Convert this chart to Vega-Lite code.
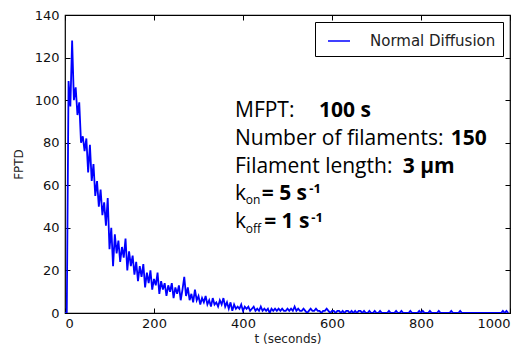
{
  "$schema": "https://vega.github.io/schema/vega-lite/v6.json",
  "width": 445,
  "height": 298,
  "autosize": "none",
  "padding": {"left": 65, "top": 15, "right": 16, "bottom": 40},
  "background": "white",
  "config": {
    "view": {"stroke": "black", "strokeWidth": 1.2},
    "axis": {"grid": false, "domain": false, "tickColor": "black", "tickSize": -5, "tickWidth": 1,
      "labelFont": "DejaVu Sans", "labelFontSize": 13, "labelColor": "#111",
      "titleFont": "DejaVu Sans", "titleFontSize": 12, "titleFontWeight": "normal", "titleColor": "#222"}
  },
  "datasets": {
    "fptd": [
      {"t":0,"n":0},{"t":4,"n":0},{"t":8,"n":109},{"t":12,"n":97},{"t":16,"n":128},{"t":20,"n":100},{"t":24,"n":106},{"t":28,"n":93},{"t":32,"n":99},{"t":36,"n":80},
      {"t":40,"n":83},{"t":44,"n":76},{"t":48,"n":82},{"t":52,"n":66},{"t":56,"n":79},{"t":60,"n":62},{"t":64,"n":70},{"t":68,"n":55},{"t":72,"n":62},{"t":76,"n":50},
      {"t":80,"n":58},{"t":84,"n":46},{"t":88,"n":52},{"t":92,"n":41},{"t":96,"n":54},{"t":100,"n":30},{"t":104,"n":40},{"t":108,"n":22},{"t":112,"n":37},{"t":116,"n":28},
      {"t":120,"n":34},{"t":124,"n":24},{"t":128,"n":31},{"t":132,"n":26},{"t":136,"n":35},{"t":140,"n":20},{"t":144,"n":29},{"t":148,"n":22},{"t":152,"n":27},{"t":156,"n":18},
      {"t":160,"n":24},{"t":164,"n":15},{"t":168,"n":22},{"t":172,"n":17},{"t":176,"n":23},{"t":180,"n":12},{"t":184,"n":19},{"t":188,"n":14},{"t":192,"n":20},{"t":196,"n":11},
      {"t":200,"n":16},{"t":204,"n":13},{"t":208,"n":19},{"t":212,"n":9},{"t":216,"n":15},{"t":220,"n":11},{"t":224,"n":14},{"t":228,"n":8},{"t":232,"n":13},{"t":236,"n":10},
      {"t":240,"n":14},{"t":244,"n":7},{"t":248,"n":12},{"t":252,"n":9},{"t":256,"n":13},{"t":260,"n":6},{"t":264,"n":11},{"t":268,"n":17},{"t":272,"n":8},{"t":276,"n":12},
      {"t":280,"n":6},{"t":284,"n":9},{"t":288,"n":5},{"t":292,"n":11},{"t":296,"n":6},{"t":300,"n":8},{"t":304,"n":4},{"t":308,"n":7},{"t":312,"n":5},{"t":316,"n":8},
      {"t":320,"n":4},{"t":324,"n":6},{"t":328,"n":3},{"t":332,"n":7},{"t":336,"n":4},{"t":340,"n":5},{"t":344,"n":3},{"t":348,"n":6},{"t":352,"n":4},{"t":356,"n":7},
      {"t":360,"n":3},{"t":364,"n":5},{"t":368,"n":2},{"t":372,"n":5},{"t":376,"n":1},{"t":380,"n":4},{"t":384,"n":2},{"t":388,"n":3},{"t":392,"n":2},{"t":396,"n":4},
      {"t":400,"n":1},{"t":404,"n":3},{"t":408,"n":2},{"t":412,"n":3},{"t":416,"n":1},{"t":420,"n":2},{"t":424,"n":3},{"t":428,"n":1},{"t":432,"n":2},{"t":436,"n":1},
      {"t":440,"n":3},{"t":444,"n":1},{"t":448,"n":2},{"t":452,"n":1},{"t":456,"n":2},{"t":460,"n":0},{"t":464,"n":2},{"t":468,"n":1},{"t":472,"n":2},{"t":476,"n":1},
      {"t":480,"n":2},{"t":484,"n":1},{"t":488,"n":2},{"t":492,"n":1},{"t":496,"n":1},{"t":500,"n":2},{"t":504,"n":1},{"t":508,"n":2},{"t":512,"n":1},{"t":516,"n":3},
      {"t":520,"n":1},{"t":524,"n":2},{"t":528,"n":1},{"t":532,"n":1},{"t":536,"n":2},{"t":540,"n":1},{"t":544,"n":0},{"t":548,"n":1},{"t":552,"n":2},{"t":556,"n":1},
      {"t":560,"n":1},{"t":564,"n":2},{"t":568,"n":1},{"t":572,"n":1},{"t":576,"n":0},{"t":580,"n":1},{"t":584,"n":1},{"t":588,"n":2},{"t":592,"n":1},{"t":596,"n":0},
      {"t":600,"n":1},{"t":604,"n":1},{"t":608,"n":0},{"t":612,"n":1},{"t":616,"n":1},{"t":620,"n":0},{"t":624,"n":1},{"t":628,"n":0},{"t":632,"n":1},{"t":636,"n":1},
      {"t":640,"n":0},{"t":644,"n":1},{"t":648,"n":0},{"t":652,"n":1},{"t":656,"n":0},{"t":660,"n":1},{"t":664,"n":1},{"t":668,"n":0},{"t":672,"n":1},{"t":676,"n":0},
      {"t":680,"n":0},{"t":684,"n":1},{"t":688,"n":0},{"t":692,"n":0},{"t":696,"n":1},{"t":700,"n":0},{"t":704,"n":0},{"t":708,"n":1},{"t":712,"n":0},{"t":716,"n":0},
      {"t":720,"n":0},{"t":724,"n":0},{"t":728,"n":1},{"t":732,"n":0},{"t":736,"n":0},{"t":740,"n":0},{"t":744,"n":1},{"t":748,"n":0},{"t":752,"n":0},{"t":756,"n":1},
      {"t":760,"n":0},{"t":764,"n":0},{"t":768,"n":0},{"t":772,"n":0},{"t":776,"n":1},{"t":780,"n":0},{"t":784,"n":0},{"t":788,"n":0},{"t":792,"n":0},{"t":796,"n":1},
      {"t":800,"n":0},{"t":804,"n":1},{"t":808,"n":0},{"t":812,"n":0},{"t":816,"n":0},{"t":820,"n":1},{"t":824,"n":0},{"t":828,"n":0},{"t":832,"n":0},{"t":836,"n":0},
      {"t":840,"n":1},{"t":844,"n":0},{"t":848,"n":0},{"t":852,"n":0},{"t":856,"n":0},{"t":860,"n":0},{"t":864,"n":0},{"t":868,"n":1},{"t":872,"n":0},{"t":876,"n":0},
      {"t":880,"n":0},{"t":884,"n":0},{"t":888,"n":1},{"t":892,"n":0},{"t":896,"n":0},{"t":900,"n":0},{"t":904,"n":0},{"t":908,"n":0},{"t":912,"n":0},{"t":916,"n":0},
      {"t":920,"n":0},{"t":924,"n":0},{"t":928,"n":0},{"t":932,"n":0},{"t":936,"n":0},{"t":940,"n":0},{"t":944,"n":0},{"t":948,"n":0},{"t":952,"n":0},{"t":956,"n":0},
      {"t":960,"n":0},{"t":964,"n":0},{"t":968,"n":0},{"t":972,"n":0},{"t":976,"n":0},{"t":980,"n":0},{"t":984,"n":1},{"t":988,"n":0},{"t":992,"n":1},{"t":996,"n":0}
    ]
  },
  "data": {"name": "fptd"},
  "resolve": {"axis": {"x": "independent", "y": "independent"}},
  "layer": [
    {
      "mark": {"type": "line", "strokeWidth": 1.8, "clip": true},
      "encoding": {
        "x": {"field": "t", "type": "quantitative", "scale": {"domain": [0, 1000], "nice": false},
          "axis": {"orient": "bottom", "values": [0,200,400,600,800,1000], "format": "d", "labelPadding": 9, "title": "t (seconds)", "titlePadding": 3}},
        "y": {"field": "n", "type": "quantitative", "scale": {"domain": [0, 140], "nice": false},
          "axis": {"orient": "left", "values": [0,20,40,60,80,100,120,140], "format": "d", "labelPadding": 11, "title": "FPTD", "titlePadding": 9}},
        "color": {"datum": "Normal Diffusion", "type": "nominal", "scale": {"range": ["#0000ff"]},
          "legend": {"orient": "top-right", "offset": 7, "title": null, "strokeColor": "black", "fillColor": "white",
            "padding": 7, "cornerRadius": 0, "symbolType": "stroke", "symbolSize": 484, "symbolStrokeWidth": 1.5,
            "symbolOffset": 5, "labelOffset": 19, "labelFont": "DejaVu Sans", "labelFontSize": 15, "labelColor": "#222"}}
      }
    },
    {
      "mark": {"type": "line", "opacity": 0},
      "encoding": {
        "x": {"field": "t", "type": "quantitative", "axis": {"orient": "top", "values": [0,200,400,600,800,1000], "labels": false, "title": null}},
        "y": {"field": "n", "type": "quantitative", "axis": {"orient": "right", "values": [0,20,40,60,80,100,120,140], "labels": false, "title": null}}
      }
    },
    {"data": {"values": [{}]}, "mark": {"type": "text", "text": "MFPT:", "font": "Open Sans", "fontSize": 21, "align": "left", "baseline": "alphabetic", "color": "black"},
      "encoding": {"x": {"datum": 382, "type": "quantitative", "axis": null}, "y": {"datum": 92.1, "type": "quantitative", "axis": null}}},
    {"data": {"values": [{}]}, "mark": {"type": "text", "text": "100 s", "font": "Open Sans", "fontWeight": "bold", "fontSize": 21, "align": "left", "baseline": "alphabetic", "color": "black"},
      "encoding": {"x": {"datum": 571, "type": "quantitative", "axis": null}, "y": {"datum": 92.1, "type": "quantitative", "axis": null}}},
    {"data": {"values": [{}]}, "mark": {"type": "text", "text": "Number of filaments:", "font": "Open Sans", "fontSize": 21, "align": "left", "baseline": "alphabetic", "color": "black"},
      "encoding": {"x": {"datum": 382, "type": "quantitative", "axis": null}, "y": {"datum": 78.9, "type": "quantitative", "axis": null}}},
    {"data": {"values": [{}]}, "mark": {"type": "text", "text": "150", "font": "Open Sans", "fontWeight": "bold", "fontSize": 21, "align": "left", "baseline": "alphabetic", "color": "black"},
      "encoding": {"x": {"datum": 867, "type": "quantitative", "axis": null}, "y": {"datum": 78.9, "type": "quantitative", "axis": null}}},
    {"data": {"values": [{}]}, "mark": {"type": "text", "text": "Filament length:", "font": "Open Sans", "fontSize": 21, "align": "left", "baseline": "alphabetic", "color": "black"},
      "encoding": {"x": {"datum": 382, "type": "quantitative", "axis": null}, "y": {"datum": 65.8, "type": "quantitative", "axis": null}}},
    {"data": {"values": [{}]}, "mark": {"type": "text", "text": "3 μm", "font": "Open Sans", "fontWeight": "bold", "fontSize": 21, "align": "left", "baseline": "alphabetic", "color": "black"},
      "encoding": {"x": {"datum": 759, "type": "quantitative", "axis": null}, "y": {"datum": 65.8, "type": "quantitative", "axis": null}}},
    {"data": {"values": [{}]}, "mark": {"type": "text", "text": "k", "font": "Open Sans", "fontSize": 21, "align": "left", "baseline": "alphabetic", "color": "black"},
      "encoding": {"x": {"datum": 382, "type": "quantitative", "axis": null}, "y": {"datum": 53.1, "type": "quantitative", "axis": null}}},
    {"data": {"values": [{}]}, "mark": {"type": "text", "text": "on", "font": "Open Sans", "fontSize": 12, "align": "left", "baseline": "alphabetic", "color": "black"},
      "encoding": {"x": {"datum": 406, "type": "quantitative", "axis": null}, "y": {"datum": 51.2, "type": "quantitative", "axis": null}}},
    {"data": {"values": [{}]}, "mark": {"type": "text", "text": "= 5 s", "font": "Open Sans", "fontWeight": "bold", "fontSize": 21, "align": "left", "baseline": "alphabetic", "color": "black"},
      "encoding": {"x": {"datum": 442, "type": "quantitative", "axis": null}, "y": {"datum": 53.1, "type": "quantitative", "axis": null}}},
    {"data": {"values": [{}]}, "mark": {"type": "text", "text": "-1", "font": "Open Sans", "fontWeight": "bold", "fontSize": 13, "align": "left", "baseline": "alphabetic", "color": "black"},
      "encoding": {"x": {"datum": 549, "type": "quantitative", "axis": null}, "y": {"datum": 56.2, "type": "quantitative", "axis": null}}},
    {"data": {"values": [{}]}, "mark": {"type": "text", "text": "k", "font": "Open Sans", "fontSize": 21, "align": "left", "baseline": "alphabetic", "color": "black"},
      "encoding": {"x": {"datum": 382, "type": "quantitative", "axis": null}, "y": {"datum": 39.8, "type": "quantitative", "axis": null}}},
    {"data": {"values": [{}]}, "mark": {"type": "text", "text": "off", "font": "Open Sans", "fontSize": 12, "align": "left", "baseline": "alphabetic", "color": "black"},
      "encoding": {"x": {"datum": 406, "type": "quantitative", "axis": null}, "y": {"datum": 37.7, "type": "quantitative", "axis": null}}},
    {"data": {"values": [{}]}, "mark": {"type": "text", "text": "= 1 s", "font": "Open Sans", "fontWeight": "bold", "fontSize": 21, "align": "left", "baseline": "alphabetic", "color": "black"},
      "encoding": {"x": {"datum": 447.5, "type": "quantitative", "axis": null}, "y": {"datum": 39.8, "type": "quantitative", "axis": null}}},
    {"data": {"values": [{}]}, "mark": {"type": "text", "text": "-1", "font": "Open Sans", "fontWeight": "bold", "fontSize": 13, "align": "left", "baseline": "alphabetic", "color": "black"},
      "encoding": {"x": {"datum": 553.5, "type": "quantitative", "axis": null}, "y": {"datum": 42.9, "type": "quantitative", "axis": null}}}
  ]
}
